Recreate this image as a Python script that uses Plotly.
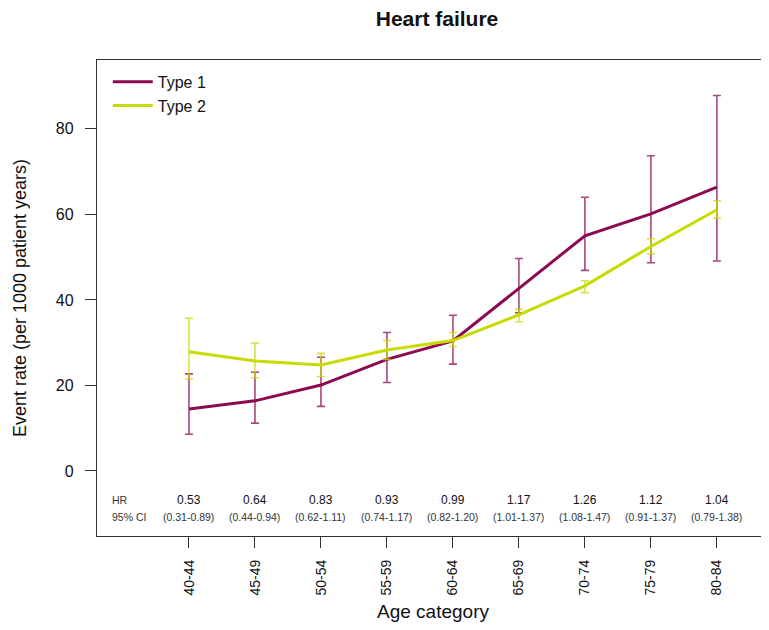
import plotly.graph_objects as go

categories = ["40-44", "45-49", "50-54", "55-59", "60-64", "65-69", "70-74", "75-79", "80-84"]

type1_rate = [14.5, 16.4, 20.1, 26.1, 30.4, 42.7, 55.0, 60.1, 66.4]
type1_low = [8.6, 11.2, 15.1, 20.7, 25.0, 37.0, 46.9, 48.7, 49.1]
type1_high = [22.7, 23.1, 26.6, 32.4, 36.4, 49.7, 64.0, 73.7, 87.8]

type2_rate = [27.9, 25.7, 24.8, 28.3, 30.5, 36.5, 43.3, 52.5, 61.1]
type2_low = [21.5, 21.8, 22.1, 26.1, 29.1, 34.9, 41.7, 50.8, 59.1]
type2_high = [35.7, 29.9, 27.5, 30.5, 32.4, 37.8, 44.5, 54.3, 63.2]

hr_values = ["0.53", "0.64", "0.83", "0.93", "0.99", "1.17", "1.26", "1.12", "1.04"]
hr_ci = ["(0.31-0.89)", "(0.44-0.94)", "(0.62-1.11)", "(0.74-1.17)", "(0.82-1.20)",
         "(1.01-1.37)", "(1.08-1.47)", "(0.91-1.37)", "(0.79-1.38)"]

c1 = "#8B0A50"
c2 = "#C8DB00"
font_family = "Liberation Sans, Arial, sans-serif"

xs = list(range(len(categories)))

fig = go.Figure()
fig.add_trace(go.Scatter(
    x=xs, y=type1_rate, mode="lines", name="Type 1",
    line=dict(color=c1, width=3),
    error_y=dict(type="data", symmetric=False,
                 array=[h - r for h, r in zip(type1_high, type1_rate)],
                 arrayminus=[r - l for r, l in zip(type1_rate, type1_low)],
                 color="rgba(139,10,80,0.75)", thickness=1.6, width=4),
))
fig.add_trace(go.Scatter(
    x=xs, y=type2_rate, mode="lines", name="Type 2",
    line=dict(color=c2, width=3),
    error_y=dict(type="data", symmetric=False,
                 array=[h - r for h, r in zip(type2_high, type2_rate)],
                 arrayminus=[r - l for r, l in zip(type2_rate, type2_low)],
                 color="rgba(200,219,0,0.75)", thickness=1.6, width=4),
))

annotations = []
for i, (hv, ci) in enumerate(zip(hr_values, hr_ci)):
    annotations.append(dict(x=i, y=-6.8, xref="x", yref="y", text=hv, showarrow=False,
                            font=dict(size=12, color="#111", family=font_family)))
    annotations.append(dict(x=i, y=-10.8, xref="x", yref="y", text=ci, showarrow=False,
                            font=dict(size=10.5, color="#333", family=font_family)))
annotations.append(dict(x=-1.2, y=-6.8, xref="x", yref="y", text="HR", showarrow=False,
                        xanchor="left", font=dict(size=10.5, color="#333", family=font_family)))
annotations.append(dict(x=-1.2, y=-10.8, xref="x", yref="y", text="95% CI", showarrow=False,
                        xanchor="left", font=dict(size=10.5, color="#333", family=font_family)))

fig.update_layout(
    width=761, height=622,
    margin=dict(l=89, r=0, t=52, b=94),
    paper_bgcolor="white", plot_bgcolor="white",
    font=dict(family=font_family, color="#111"),
    title=dict(text="<b>Heart failure</b>", xref="paper", x=0.506, xanchor="center",
               yref="container", y=1 - 11 / 622, yanchor="middle",
               font=dict(size=21, family=font_family, color="#111")),
    showlegend=True,
    legend=dict(x=0.016, y=0.99, xanchor="left", yanchor="top", bgcolor="rgba(0,0,0,0)",
                itemwidth=40,
                font=dict(size=16, family=font_family, color="#111"), tracegroupgap=0),
    annotations=annotations,
    xaxis=dict(range=[-1.394, 8.79], tickmode="array", tickvals=xs, ticktext=categories,
               tickangle=-90, ticks="outside", ticklen=11, tickcolor="#333", tickwidth=1.3,
               showline=True, linecolor="#333", linewidth=1.3, mirror=True,
               showgrid=False, zeroline=False, ticklabelstandoff=6,
               tickfont=dict(size=14, family=font_family, color="#111"),
               title=dict(text="Age category", font=dict(size=19, family=font_family, color="#111"),
                          standoff=10)),
    yaxis=dict(range=[-15.2, 96.1], tickvals=[0, 20, 40, 60, 80], ticks="outside", ticklen=11,
               tickcolor="#333", tickwidth=1.3, showline=True, linecolor="#333", linewidth=1.3,
               mirror=False, showgrid=False, zeroline=False, ticklabelstandoff=8,
               tickfont=dict(size=16, family=font_family, color="#111"),
               title=dict(text="Event rate (per 1000 patient years)",
                          font=dict(size=18, family=font_family, color="#111"), standoff=24)),
)

fig.write_html("out.html")
